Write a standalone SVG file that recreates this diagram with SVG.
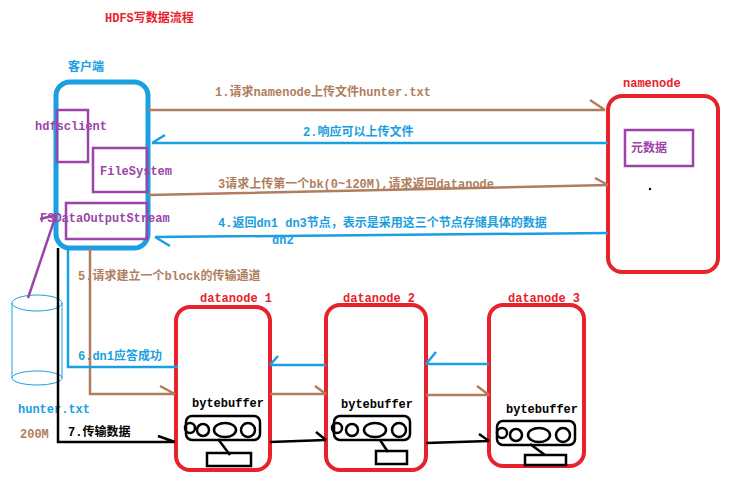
<svg xmlns="http://www.w3.org/2000/svg" width="731" height="486" viewBox="0 0 731 486">
<style>
text{font-family:"Liberation Mono","Noto Sans CJK SC",monospace;font-weight:bold;font-size:12px}
.r{fill:none;stroke:#e8222a;stroke-width:4}
.p{fill:none;stroke:#9b45a8;stroke-width:2.5}
.br{fill:none;stroke:#b07e5e;stroke-width:2.5}
.bl{fill:none;stroke:#1aa0e0;stroke-width:2.5}
.bk{fill:none;stroke:#000;stroke-width:2.5}
.bb{fill:none;stroke:#000;stroke-width:2.5}
</style>
<rect width="731" height="486" fill="#fff"/>
<text x="105" y="22" fill="#e8222a">HDFS写数据流程</text>
<g id="client">
<text x="68" y="71" fill="#1aa0e0">客户端</text>
<rect x="56" y="82" width="92" height="166" rx="14" fill="none" stroke="#1aa0e0" stroke-width="5"/>
<rect class="p" x="57" y="110" width="31" height="52"/>
<rect class="p" x="93" y="148" width="54" height="44"/>
<rect class="p" x="66" y="203" width="81" height="36"/>
<text x="35" y="130" fill="#9b45a8">hdfsclient</text>
<text x="100" y="175" fill="#9b45a8">FileSystem</text>
<text x="40" y="222" fill="#9b45a8">FSDataOutputStream</text>
</g>
<g id="namenode">
<text x="623" y="87" fill="#e8222a">namenode</text>
<rect class="r" x="608" y="96" width="110" height="176" rx="14"/>
<rect class="p" x="625" y="130" width="68" height="36"/>
<text x="631" y="152" fill="#9b45a8">元数据</text>
<circle cx="650" cy="189" r="1.2" fill="#000"/>
</g>
<g id="file">
<path d="M12 303 V378 M62 303 V378" fill="none" stroke="#1aa0e0"/>
<ellipse cx="37" cy="303" rx="25" ry="8" fill="none" stroke="#1aa0e0"/>
<ellipse cx="37" cy="378" rx="25" ry="7" fill="none" stroke="#1aa0e0"/>
<text x="18" y="413" fill="#1aa0e0">hunter.txt</text>
<text x="20" y="438" fill="#b07e5e">200M</text>
</g>
<g id="dn1">
<text x="200" y="302" fill="#e8222a">datanode 1</text>
<rect class="r" x="176" y="307" width="94" height="163" rx="14"/>
<text x="192" y="407">bytebuffer</text>
<rect class="bb" x="186" y="416" width="74" height="24" rx="6"/>
<circle cx="190" cy="428" r="5" class="bb"/><circle cx="203" cy="430" r="6" class="bb"/><ellipse cx="225" cy="430" rx="11" ry="7" class="bb"/><circle cx="248" cy="430" r="7" class="bb"/>
<path class="bb" d="M218 439 L230 455"/><rect class="bb" x="207" y="453" width="44" height="13"/>
</g>
<g id="dn2">
<text x="343" y="302" fill="#e8222a">datanode 2</text>
<rect class="r" x="326" y="305" width="100" height="165" rx="14"/>
<text x="341" y="408">bytebuffer</text>
<rect class="bb" x="334" y="416" width="76" height="24" rx="6"/>
<circle cx="337" cy="428" r="5" class="bb"/><circle cx="352" cy="430" r="6" class="bb"/><ellipse cx="375" cy="430" rx="11" ry="7" class="bb"/><circle cx="399" cy="430" r="7" class="bb"/>
<path class="bb" d="M380 440 L388 452"/><rect class="bb" x="376" y="451" width="31" height="13"/>
</g>
<g id="dn3">
<text x="508" y="302" fill="#e8222a">datanode 3</text>
<rect class="r" x="489" y="305" width="95" height="161" rx="14"/>
<text x="506" y="413">bytebuffer</text>
<rect class="bb" x="497" y="421" width="78" height="24" rx="6"/>
<circle cx="502" cy="433" r="5" class="bb"/><circle cx="516" cy="435" r="6" class="bb"/><ellipse cx="539" cy="435" rx="11" ry="7" class="bb"/><circle cx="563" cy="435" r="7" class="bb"/>
<path class="bb" d="M530 444 L545 455"/><rect class="bb" x="525" y="455" width="41" height="10"/>
</g>
<g id="connectors">
<path class="br" d="M148 110 H605 M590 100 L605 110"/>
<text x="215" y="96" fill="#b07e5e">1.请求namenode上传文件hunter.txt</text>
<path class="bl" d="M608 143 H152 M152 143 L165 135"/>
<text x="303" y="136" fill="#1aa0e0">2.响应可以上传文件</text>
<path class="br" d="M148 195 L608 185 M595 178 L608 185"/>
<text x="218" y="188" fill="#b07e5e">3请求上传第一个bk(0~120M),请求返回datanode</text>
<path class="bl" d="M608 233 L155 237 M155 237 L170 246"/>
<text x="218" y="227" fill="#1aa0e0">4.返回dn1  dn3节点，表示是采用这三个节点存储具体的数据</text>
<text x="272" y="244" fill="#1aa0e0">dn2</text>
<path class="br" d="M90 248 V394 H175 M160 386 L175 394 M270 394 H326 M315 386 L326 394 M426 395 H489 M477 386 L489 395"/>
<text x="78" y="280" fill="#b07e5e">5.请求建立一个block的传输通道</text>
<path class="bl" d="M489 364 H426 M426 364 L436 352 M326 365 H270 M270 365 L278 356 M178 367 H68 V248"/>
<text x="78" y="360" fill="#1aa0e0">6.dn1应答成功</text>
<path class="bk" d="M58 248 V442 H175 M158 436 L175 442 M270 442 L326 440 M316 432 L326 440 M426 443 L489 441 M479 434 L489 441"/>
<text x="68" y="436" fill="#000">7.传输数据</text>
<path stroke="#9b45a8" stroke-width="2.5" fill="none" d="M28 298 L56 215 M56 215 L40 219"/>
</g>
</svg>
